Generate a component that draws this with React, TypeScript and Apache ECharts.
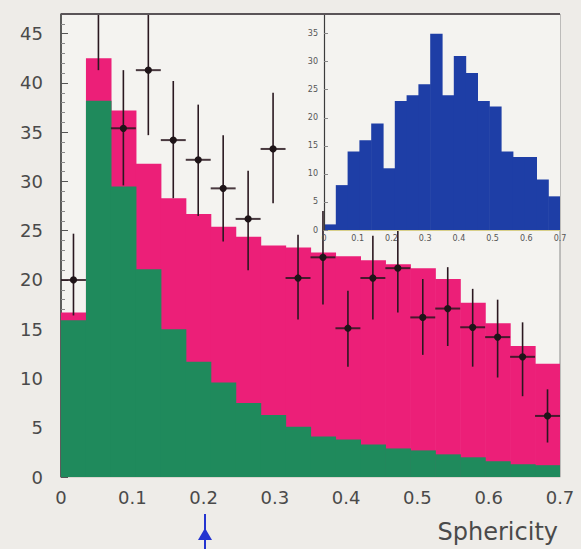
import React, { useEffect, useRef } from "react";
import * as echarts from "echarts";

// Histogram bins (lower edges), bin width 0.035 in sphericity
const binLow = [0, 0.035, 0.07, 0.105, 0.14, 0.175, 0.21, 0.245, 0.28, 0.315, 0.35, 0.385, 0.42, 0.455, 0.49, 0.525, 0.56, 0.595, 0.63, 0.665];
const BIN_W = 0.035;

// Main plot: total MC (pink), green component, data points with error bars
const totalMC = [16.7, 42.5, 37.2, 31.8, 28.3, 26.7, 25.4, 24.4, 23.5, 23.3, 22.8, 22.4, 22.0, 21.6, 21.2, 20.1, 17.7, 15.6, 13.3, 11.5];
const greenMC = [15.9, 38.2, 29.5, 21.1, 15.0, 11.7, 9.6, 7.5, 6.3, 5.1, 4.1, 3.8, 3.3, 2.9, 2.7, 2.3, 2.0, 1.6, 1.3, 1.2];
const dataVal = [20, 48, 35.4, 41.3, 34.2, 32.2, 29.3, 26.2, 33.3, 20.2, 22.3, 15.1, 20.2, 21.2, 16.2, 17.1, 15.2, 14.2, 12.2, 6.2];
const dataLo = [16.4, 41.3, 29.6, 34.7, 28.3, 26.5, 23.9, 21.0, 27.8, 16.0, 17.5, 11.2, 16.0, 16.7, 12.4, 13.3, 11.2, 10.1, 8.2, 3.5];
const dataHi = [24.7, 55.0, 41.3, 48.0, 40.2, 37.8, 34.7, 31.1, 39.0, 24.6, 27.0, 18.9, 24.5, 25.0, 20.1, 21.3, 19.1, 18.0, 15.7, 8.9];

// Inset histogram (blue)
const insetVal = [1, 8, 14, 16, 19, 11, 23, 24, 26, 35, 24, 31, 28, 23, 22, 14, 13, 13, 9, 6];

const xLabelFmt = (v: number) => (v === 0 ? "0" : String(+Number(v).toFixed(1)));

const FONT = "'DejaVu Sans', 'Liberation Sans', Arial, sans-serif";

function histSeries(values: number[], color: string, xIdx: number, yIdx: number, z: number) {
  return {
    type: "custom",
    xAxisIndex: xIdx,
    yAxisIndex: yIdx,
    z,
    clip: true,
    silent: true,
    encode: { x: [0, 1], y: 2 },
    data: values.map((v, i) => [binLow[i], binLow[i] + BIN_W, v]),
    renderItem: (_p: any, api: any) => {
      const p0 = api.coord([api.value(0), 0]);
      const p1 = api.coord([api.value(1), api.value(2)]);
      return {
        type: "rect",
        shape: { x: p0[0], y: p1[1], width: p1[0] - p0[0] + 0.6, height: p0[1] - p1[1] },
        style: { fill: color },
      };
    },
  };
}

export default function App() {
  const ref = useRef<HTMLDivElement>(null);
  useEffect(() => {
    if (!ref.current) return;
    const chart = echarts.init(ref.current, undefined, { renderer: "svg" });
    const option: any = {
      animation: false,
      backgroundColor: "#eeece8",
      grid: [
        {
          left: 61, top: 14, width: 499, height: 463,
          show: true, backgroundColor: "#f4f3f0", borderColor: "#8a8a8a", borderWidth: 1, z: 0,
        },
        {
          left: 324, top: 14, width: 236, height: 216,
          show: true, backgroundColor: "#f4f3f0", borderColor: "#777", borderWidth: 0, z: 4,
        },
      ],
      xAxis: [
        {
          type: "value", gridIndex: 0, min: 0, max: 0.7, interval: 0.1,
          splitLine: { show: false },
          axisLine: { show: true, lineStyle: { color: "#d9d6cf", width: 1 } },
          axisTick: { show: false },
          axisLabel: { margin: 11, fontSize: 18, color: "#4a4a4a", fontFamily: FONT, formatter: xLabelFmt },
        },
        {
          type: "value", gridIndex: 1, min: 0, max: 0.7, interval: 0.1, z: 6,
          splitLine: { show: false },
          axisLine: { show: true, lineStyle: { color: "#d8cf8a", width: 1 } },
          axisTick: { show: false },
          axisLabel: { margin: 4, fontSize: 8, color: "#555", fontFamily: FONT, formatter: xLabelFmt },
        },
      ],
      yAxis: [
        {
          type: "value", gridIndex: 0, min: 0, max: 47, interval: 5,
          splitLine: { show: false },
          axisLine: { show: true, lineStyle: { color: "#3c3c3c", width: 1.5 } },
          axisTick: { show: true, inside: true, length: 7, lineStyle: { color: "#555" } },
          minorTick: { show: true, splitNumber: 5, length: 4, lineStyle: { color: "#888" } },
          axisLabel: { margin: 18, fontSize: 18, color: "#4a4a4a", fontFamily: FONT, showMaxLabel: false },
        },
        {
          type: "value", gridIndex: 1, min: 0, max: 38.5, interval: 5, z: 6,
          splitLine: { show: false },
          axisLine: { show: true, lineStyle: { color: "#3c3c3c", width: 1.2 } },
          axisTick: { show: true, inside: true, length: 4, lineStyle: { color: "#888" } },
          axisLabel: { margin: 6, fontSize: 8, color: "#555", fontFamily: FONT, showMaxLabel: false },
        },
      ],
      series: [
        histSeries(totalMC, "#ec1f78", 0, 0, 1),
        histSeries(greenMC, "#1f8a5c", 0, 0, 2),
        {
          type: "custom",
          xAxisIndex: 0,
          yAxisIndex: 0,
          z: 3,
          clip: true,
          silent: true,
          encode: { x: 0, y: 1 },
          data: dataVal.map((v, i) => [binLow[i] + BIN_W / 2, v, dataLo[i], dataHi[i]]),
          renderItem: (_p: any, api: any) => {
            const x = api.value(0);
            const c = api.coord([x, api.value(1)]);
            const lo = api.coord([x, api.value(2)]);
            const hi = api.coord([x, api.value(3)]);
            const l = api.coord([x - BIN_W * 0.5, api.value(1)]);
            const r = api.coord([x + BIN_W * 0.5, api.value(1)]);
            return {
              type: "group",
              children: [
                { type: "line", shape: { x1: lo[0], y1: lo[1], x2: hi[0], y2: hi[1] }, style: { stroke: "#2a1820", lineWidth: 1.6 } },
                { type: "line", shape: { x1: l[0], y1: l[1], x2: r[0], y2: r[1] }, style: { stroke: "#2a1820", lineWidth: 2, opacity: 0.85 } },
                { type: "circle", shape: { cx: c[0], cy: c[1], r: 3.6 }, style: { fill: "#1e1418" } },
              ],
            };
          },
        },
        histSeries(insetVal, "#1e3ea6", 1, 1, 5),
      ],
      graphic: [
        {
          type: "line", z: 20,
          shape: { x1: 61, y1: 14, x2: 560, y2: 14 },
          style: { stroke: "#5a5458", lineWidth: 2 },
        },
        {
          type: "text", x: 558, y: 532, z: 10,
          style: { text: "Sphericity", fontSize: 24, fill: "#4a4a4a", fontFamily: FONT, align: "right", verticalAlign: "middle" },
        },
        {
          type: "group", z: 10,
          children: [
            { type: "line", shape: { x1: 205, y1: 514, x2: 205, y2: 549 }, style: { stroke: "#2434d0", lineWidth: 2 } },
            { type: "polygon", shape: { points: [[198, 540], [212, 540], [205, 528]] }, style: { fill: "#2434d0" } },
          ],
        },
      ],
    };
    chart.setOption(option);
    return () => chart.dispose();
  }, []);
  return <div ref={ref} style={{ position: "fixed", left: 0, top: 0, width: 581, height: 549 }} />;
}
